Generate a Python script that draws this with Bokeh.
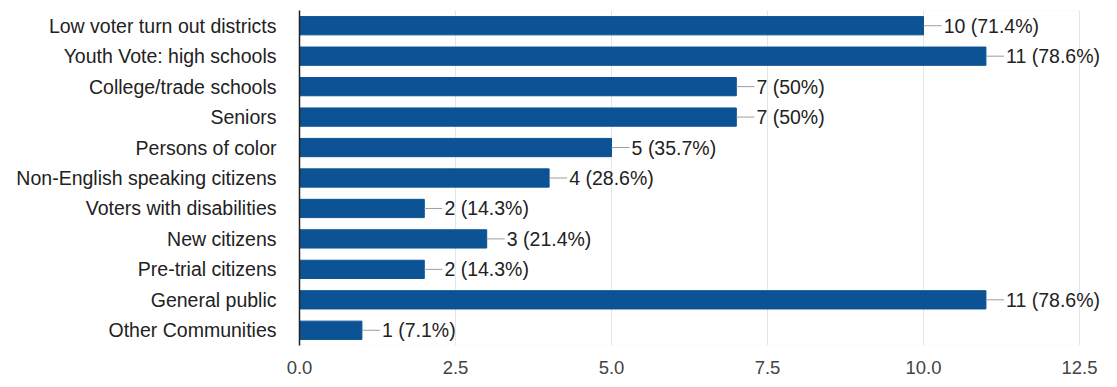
from bokeh.plotting import figure
from bokeh.models import ColumnDataSource, FactorRange, Range1d, FixedTicker, NumeralTickFormatter, BoxAnnotation
from bokeh.core.properties import value
from bokeh.embed import file_html
from bokeh.resources import INLINE

categories = [
    "Low voter turn out districts",
    "Youth Vote: high schools",
    "College/trade schools",
    "Seniors",
    "Persons of color",
    "Non-English speaking citizens",
    "Voters with disabilities",
    "New citizens",
    "Pre-trial citizens",
    "General public",
    "Other Communities",
]
counts = [10, 11, 7, 7, 5, 4, 2, 3, 2, 11, 1]
percents = ["71.4%", "78.6%", "50%", "50%", "35.7%", "28.6%", "14.3%", "21.4%", "14.3%", "78.6%", "7.1%"]
x_ticks = [0, 2.5, 5, 7.5, 10, 12.5]
x_max = 12.5

FONT = "Liberation Sans"
BAR = "#0b5394"
LEAD = 0.29
GRID = "#e6e6e6"

labels = [f"{c} ({p})" for c, p in zip(counts, percents)]
src = ColumnDataSource(dict(
    cat=categories,
    count=counts,
    lead_end=[c + LEAD for c in counts],
    label=labels,
))

p = figure(
    width=1117, height=387,
    y_range=FactorRange(factors=list(reversed(categories))),
    x_range=Range1d(0, 12.9),
    output_backend="svg", toolbar_location=None,
    min_border_left=299, min_border_right=13,
    min_border_top=10, min_border_bottom=42,
)
p.add_layout(BoxAnnotation(left=0, right=x_max, fill_alpha=0, line_color=GRID,
                           line_width=1, level="underlay"))
p.hbar(y="cat", right="count", left=0, height=0.6, source=src,
       fill_color=BAR, line_color=BAR)
p.segment(x0="count", y0="cat", x1="lead_end", y1="cat", source=src,
          line_color="#9e9e9e", line_width=1)
p.text(x="lead_end", y="cat", text="label", source=src,
       text_font=value(FONT), text_font_size="19.5px", text_color="#222222",
       text_baseline="middle", text_align="left", x_offset=2)

p.outline_line_color = None
p.ygrid.grid_line_color = None
p.xgrid.grid_line_color = GRID
p.xgrid.ticker = FixedTicker(ticks=x_ticks)

p.xaxis.ticker = FixedTicker(ticks=x_ticks)
p.xaxis.formatter = NumeralTickFormatter(format="0.0")
p.xaxis.axis_line_color = None
p.xaxis.major_tick_line_color = None
p.xaxis.minor_tick_line_color = None
p.xaxis.major_label_text_font = FONT
p.xaxis.major_label_text_font_size = "18.5px"
p.xaxis.major_label_text_color = "#444444"
p.xaxis.major_label_standoff = 9

p.yaxis.axis_line_color = "#222222"
p.yaxis.axis_line_width = 1.5
p.yaxis.major_tick_line_color = None
p.yaxis.minor_tick_line_color = None
p.yaxis.major_label_text_font = FONT
p.yaxis.major_label_text_font_size = "19.5px"
p.yaxis.major_label_text_color = "#222222"
p.yaxis.major_label_standoff = 17

p.background_fill_color = "white"
p.border_fill_color = "white"

open("out.html", "w").write(file_html(p, INLINE))
